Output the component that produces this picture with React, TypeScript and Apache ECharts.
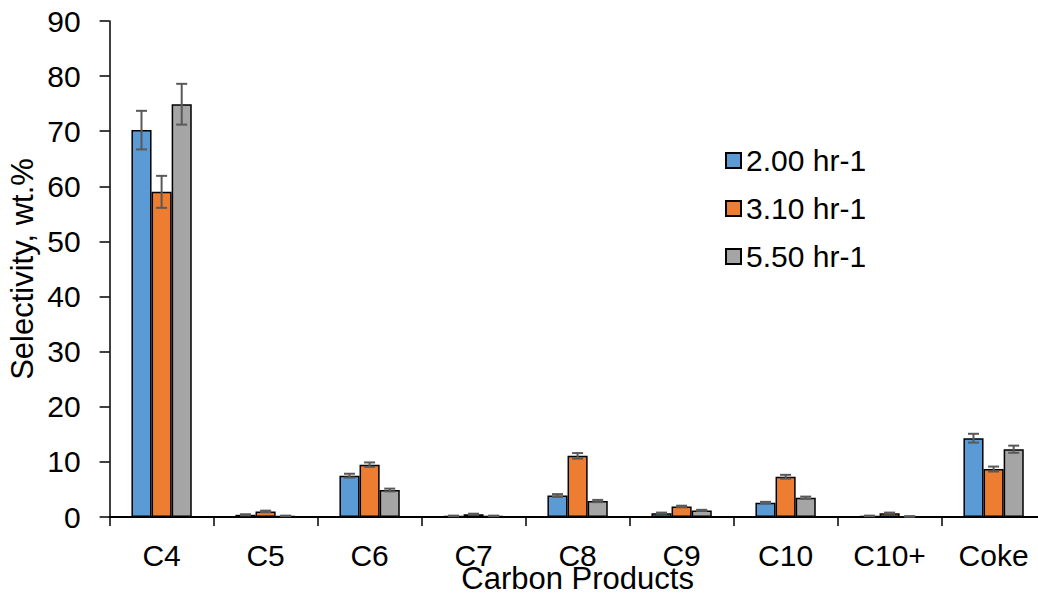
import React, { useEffect, useRef } from "react";
import * as echarts from "echarts";

// Product selectivity (wt.%) by carbon number at three space velocities
const categories = ["C4", "C5", "C6", "C7", "C8", "C9", "C10", "C10+", "Coke"];
const seriesNames = ["2.00 hr-1", "3.10 hr-1", "5.50 hr-1"];

const whsv200 = [70.2, 0.4, 7.5, 0.2, 3.9, 0.7, 2.6, 0.2, 14.3];
const whsv310 = [59.0, 1.0, 9.5, 0.5, 11.1, 1.9, 7.3, 0.7, 8.7];
const whsv550 = [74.9, 0.2, 4.9, 0.2, 2.9, 1.2, 3.5, 0.1, 12.3];

const err200 = [3.5, 0.1, 0.35, 0.05, 0.25, 0.1, 0.15, 0.05, 0.8];
const err310 = [2.9, 0.15, 0.4, 0.1, 0.5, 0.15, 0.35, 0.1, 0.45];
const err550 = [3.7, 0.05, 0.25, 0.05, 0.2, 0.1, 0.2, 0.05, 0.65];

const yTicks = { min: 0, max: 90, interval: 10 };

const colors = ["#5B9BD5", "#ED7D31", "#A5A5A5"];
const CATEGORY_GAP = 0.42;
const FONT = "'Liberation Sans', Arial, sans-serif";

export default function App() {
  const ref = useRef<HTMLDivElement>(null);

  useEffect(() => {
    if (!ref.current) return;
    const chart = echarts.init(ref.current, undefined, { renderer: "svg" });

    const values = [whsv200, whsv310, whsv550];
    const errors = [err200, err310, err550];

    const errData: number[][] = [];
    values.forEach((arr, si) => {
      arr.forEach((v, ci) => {
        errData.push([ci, v, errors[si][ci], si]);
      });
    });

    const barSeries = values.map((arr, i) => ({
      name: seriesNames[i],
      type: "bar",
      data: arr,
      barGap: "0%",
      barCategoryGap: `${CATEGORY_GAP * 100}%`,
      itemStyle: { color: colors[i], borderColor: "#000", borderWidth: 1.5 },
      z: 2,
    }));

    const errorSeries = {
      type: "custom",
      name: "error",
      data: errData,
      z: 5,
      silent: true,
      renderItem: (params: any, api: any) => {
        const ci = api.value(0);
        const v = api.value(1);
        const e = api.value(2);
        const si = api.value(3);
        const catW = api.size([1, 0])[0];
        const bw = (catW * (1 - CATEGORY_GAP)) / 3;
        const c = api.coord([ci, v]);
        const x = c[0] + (si - 1) * bw;
        const yTop = api.coord([ci, v + e])[1];
        const yBot = api.coord([ci, v - e])[1];
        const hw = 5.5;
        const style = { stroke: "#595959", lineWidth: 2 };
        return {
          type: "group",
          children: [
            { type: "line", shape: { x1: x, y1: yTop, x2: x, y2: yBot }, style },
            { type: "line", shape: { x1: x - hw, y1: yTop, x2: x + hw, y2: yTop }, style },
            { type: "line", shape: { x1: x - hw, y1: yBot, x2: x + hw, y2: yBot }, style },
          ],
        };
      },
      encode: { x: 0, y: 1 },
    };

    chart.setOption({
      animation: false,
      backgroundColor: "#fff",
      textStyle: { fontFamily: FONT },
      grid: {
        left: 109.6,
        top: 21,
        width: 936,
        height: 496,
        containLabel: false,
        outerBoundsMode: "none",
      },
      legend: {
        data: seriesNames,
        orient: "vertical",
        left: 720,
        top: 140,
        itemWidth: 15,
        itemHeight: 15,
        itemGap: 17,
        icon: "rect",
        textStyle: { fontSize: 30, color: "#000", fontFamily: FONT, lineHeight: 31 },
      },
      xAxis: {
        type: "category",
        data: categories,
        name: "Carbon Products",
        nameLocation: "middle",
        nameGap: 50,
        nameMoveOverlap: false,
        nameTextStyle: {
          fontSize: 31,
          color: "#000",
          fontFamily: FONT,
          verticalAlign: "top",
          lineHeight: 22,
        },
        axisLine: { lineStyle: { color: "#000", width: 2 } },
        axisTick: { show: true, length: 9, lineStyle: { color: "#000", width: 1.5 } },
        axisLabel: {
          fontSize: 30,
          color: "#000",
          margin: 27,
          fontFamily: FONT,
          interval: 0,
          lineHeight: 22,
        },
        splitLine: { show: false },
      },
      yAxis: {
        type: "value",
        min: yTicks.min,
        max: yTicks.max,
        interval: yTicks.interval,
        name: "Selectivity, wt.%",
        nameLocation: "middle",
        nameRotate: 90,
        nameGap: 72,
        nameMoveOverlap: false,
        nameTextStyle: { fontSize: 31, color: "#000", fontFamily: FONT },
        axisLine: { show: true, lineStyle: { color: "#000", width: 1.5 } },
        axisTick: { show: true, length: 10, lineStyle: { color: "#000", width: 1.5 } },
        axisLabel: { fontSize: 30, color: "#000", margin: 29, fontFamily: FONT },
        splitLine: { show: false },
      },
      series: [...barSeries, errorSeries],
    });

    return () => chart.dispose();
  }, []);

  return (
    <div
      ref={ref}
      style={{ position: "fixed", left: 0, top: 0, width: 1038, height: 594 }}
    />
  );
}
